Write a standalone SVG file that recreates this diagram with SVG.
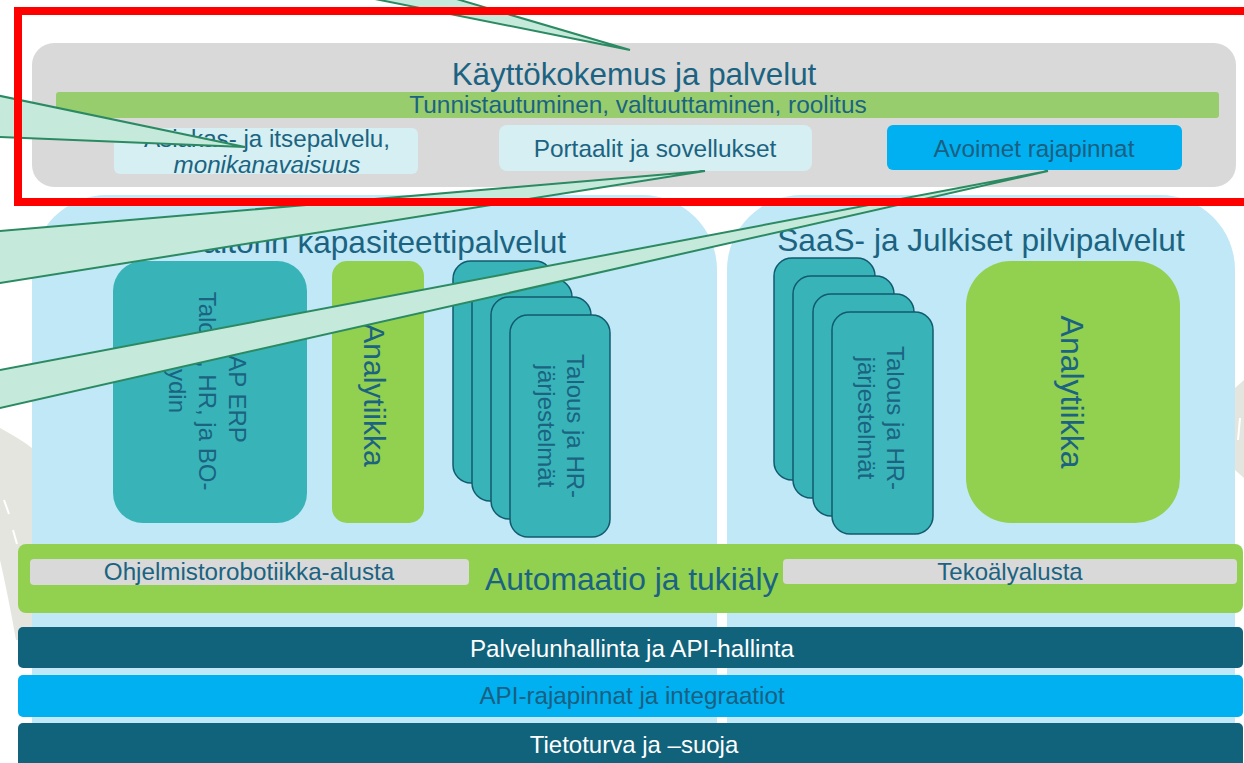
<svg xmlns="http://www.w3.org/2000/svg" width="1244" height="763" viewBox="0 0 1244 763">
<style>
text{font-family:'Liberation Sans',Arial,sans-serif;fill:#1b6381}
.wt{fill:#ffffff}
.lb{fill:#c0e8f6}
.gray{fill:#d9d9d9}
.green{fill:#92d050}
.teal{fill:#38b4b9}
.card{fill:#38b4b9;stroke:#125a6e;stroke-width:1.5}
.dark{fill:#11637c}
.blue{fill:#00b0f0}
.ontext{fill:#1b5f82}
.call{fill:#c5eadb;stroke:#2b8a62;stroke-width:2;stroke-linejoin:miter}
</style>
<rect width="1244" height="763" fill="#ffffff"/>
<g id="background-road">
  <path d="M0,428 Q22,440 32,448 L32,640 L16,640 Q8,595 0,560 Z" fill="#e5e5e0"/>
  <path d="M4,500 L9,514 M13,530 L17,544" stroke="#ffffff" stroke-width="2"/>
  <path d="M1235,388 L1244,380 L1244,478 L1235,470 Z" fill="#e5e5e0"/>
  <path d="M1240,418 L1238,440" stroke="#ffffff" stroke-width="2"/>
</g>
<g id="panel-valtori">
  <rect class="lb" x="32" y="195" width="685" height="620" rx="75"/>
  <text x="375" y="253" font-size="31.6" text-anchor="middle">Valtorin kapasiteettipalvelut</text>
</g>
<g id="panel-saas">
  <rect class="lb" x="727" y="195" width="508" height="620" rx="75"/>
  <text x="981" y="251" font-size="31.6" text-anchor="middle">SaaS- ja Julkiset pilvipalvelut</text>
</g>
<g id="kayttokokemus">
  <rect class="gray" x="32" y="43" width="1204" height="144" rx="22"/>
  <text x="634" y="85" font-size="31.4" text-anchor="middle">Käyttökokemus ja palvelut</text>
</g>
<g id="tunnistautuminen">
  <rect x="56" y="92" width="1163" height="26" rx="3" fill="#98cd6e"/>
  <text x="638" y="113" font-size="24.4" text-anchor="middle">Tunnistautuminen, valtuuttaminen, roolitus</text>
</g>
<g id="asiakaspalvelu">
  <rect x="114" y="128" width="304" height="46" rx="6" fill="#d5eff2"/>
  <text x="267" y="147" font-size="24.2" text-anchor="middle">Asiakas- ja itsepalvelu,</text>
  <text x="267" y="173" font-size="24.2" text-anchor="middle" font-style="italic">monikanavaisuus</text>
</g>
<g id="portaalit">
  <rect x="499" y="125" width="313" height="46" rx="8" fill="#d5eff2"/>
  <text x="655" y="157" font-size="24.4" text-anchor="middle">Portaalit ja sovellukset</text>
</g>
<g id="avoimet-rajapinnat">
  <rect class="blue" x="887" y="125" width="295" height="45" rx="6"/>
  <text class="ontext" x="1034" y="157" font-size="24.3" text-anchor="middle">Avoimet rajapinnat</text>
</g>
<g id="sap-erp">
  <rect class="teal" x="113" y="261" width="194" height="262" rx="30"/>
  <g transform="translate(210,391) rotate(90)">
    <text x="0" y="-19" font-size="24" text-anchor="middle">SAP ERP</text>
    <text x="0" y="11" font-size="24" text-anchor="middle">Talous, HR, ja BO-</text>
    <text x="0" y="41" font-size="24" text-anchor="middle">ydin</text>
  </g>
</g>
<g id="analytiikka-valtori">
  <rect class="green" x="332" y="261" width="92" height="262" rx="15"/>
  <text transform="translate(378,395) rotate(90)" x="0" y="14" font-size="30" text-anchor="middle">Analytiikka</text>
</g>
<g id="talous-hr-valtori">
  <rect class="card" x="453" y="261" width="100" height="222" rx="18"/>
  <rect class="card" x="472" y="279" width="100" height="222" rx="18"/>
  <rect class="card" x="491" y="297" width="100" height="222" rx="18"/>
  <rect class="card" x="510" y="315" width="100" height="222" rx="18"/>
  <g transform="translate(560,426) rotate(90)">
    <text x="0" y="-7" font-size="24" text-anchor="middle">Talous ja HR-</text>
    <text x="0" y="22" font-size="24" text-anchor="middle">järjestelmät</text>
  </g>
</g>
<g id="talous-hr-saas">
  <rect class="card" x="774" y="258" width="101" height="222" rx="18"/>
  <rect class="card" x="793" y="276" width="101" height="222" rx="18"/>
  <rect class="card" x="813" y="294" width="101" height="222" rx="18"/>
  <rect class="card" x="832" y="312" width="101" height="222" rx="18"/>
  <g transform="translate(882,418) rotate(90)">
    <text x="0" y="-5" font-size="24" text-anchor="middle">Talous ja HR-</text>
    <text x="0" y="24" font-size="24" text-anchor="middle">järjestelmät</text>
  </g>
</g>
<g id="analytiikka-saas">
  <rect class="green" x="966" y="261" width="214" height="262" rx="45"/>
  <text transform="translate(1073,392) rotate(90)" x="0" y="12" font-size="32" text-anchor="middle">Analytiikka</text>
</g>
<g id="automaatio">
  <rect class="green" x="18" y="544" width="1225" height="69" rx="8"/>
  <text x="485" y="590" font-size="31.8">Automaatio ja tukiäly</text>
</g>
<g id="ohjelmistorobotiikka">
  <rect class="gray" x="30" y="559" width="439" height="26" rx="4"/>
  <text x="249" y="580" font-size="24.2" text-anchor="middle">Ohjelmistorobotiikka-alusta</text>
</g>
<g id="tekoaly">
  <rect class="gray" x="783" y="559" width="454" height="25" rx="4"/>
  <text x="1010" y="580" font-size="24" text-anchor="middle">Tekoälyalusta</text>
</g>
<g id="palvelunhallinta">
  <rect class="dark" x="18" y="627" width="1225" height="41" rx="5"/>
  <text class="wt" x="632" y="657" font-size="24.2" text-anchor="middle">Palvelunhallinta ja API-hallinta</text>
</g>
<g id="api-rajapinnat">
  <rect class="blue" x="18" y="675" width="1225" height="42" rx="5"/>
  <text class="ontext" x="632" y="704" font-size="24.2" text-anchor="middle">API-rajapinnat ja integraatiot</text>
</g>
<g id="tietoturva">
  <rect class="dark" x="18" y="723" width="1225" height="50" rx="5"/>
  <text class="wt" x="634" y="753" font-size="24" text-anchor="middle">Tietoturva ja –suoja</text>
</g>
<g id="connectors">
  <polygon class="call" points="630,50 130,-50 290,-50"/>
  <polygon class="call" points="245,147 -100,75 -100,133"/>
  <polygon class="call" points="705,171 -100,239.5 -100,298.9"/>
  <polygon class="call" points="1048,171 -100,389 -100,430.6"/>
</g>
<g id="highlight">
  <rect x="18" y="11" width="1240" height="191" fill="none" stroke="#ff0000" stroke-width="8"/>
</g>
</svg>
